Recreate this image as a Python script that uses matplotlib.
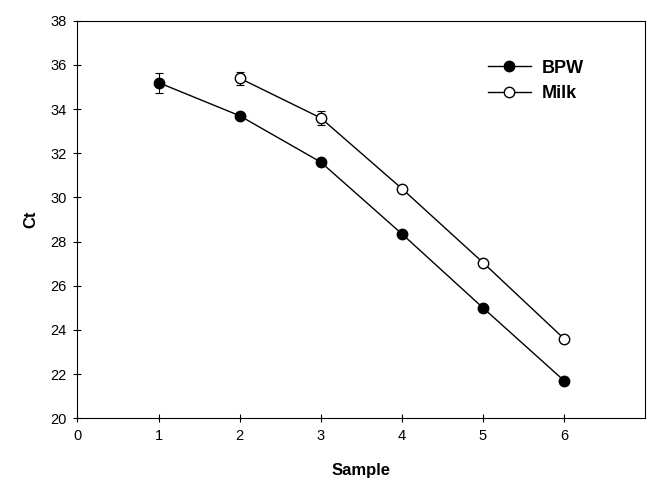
import matplotlib.pyplot as plt

plt.rcParams['font.family'] = ['Liberation Sans', 'DejaVu Sans']

sample_bpw = [1, 2, 3, 4, 5, 6]
ct_bpw = [35.2, 33.7, 31.6, 28.35, 25.0, 21.7]
err_bpw = [0.45, 0.1, 0.1, 0.1, 0.1, 0.1]

sample_milk = [2, 3, 4, 5, 6]
ct_milk = [35.4, 33.6, 30.4, 27.05, 23.6]
err_milk = [0.3, 0.3, 0.1, 0.1, 0.1]

fig = plt.figure(figsize=(6.51, 4.84), dpi=100)
ax = fig.add_axes([0.119, 0.136, 0.872, 0.821])

# error bars below the markers
ax.errorbar(sample_bpw, ct_bpw, yerr=err_bpw, fmt='none', ecolor='black',
            elinewidth=0.8, capsize=3, capthick=0.8, zorder=1)
ax.errorbar(sample_milk, ct_milk, yerr=err_milk, fmt='none', ecolor='black',
            elinewidth=0.8, capsize=3, capthick=0.8, zorder=1)

ax.plot(sample_bpw, ct_bpw, color='black', marker='o', markersize=7.5,
        markerfacecolor='black', linewidth=1, label='BPW', zorder=3)
ax.plot(sample_milk, ct_milk, color='black', marker='o', markersize=7.5,
        markerfacecolor='white', markeredgewidth=1, linewidth=1,
        label='Milk', zorder=3)

ax.set_xlim(0, 7)
ax.set_ylim(20, 38)
ax.set_xticks([0, 1, 2, 3, 4, 5, 6])
ax.set_yticks(range(20, 39, 2))
ax.tick_params(direction='inout', length=6, labelsize=10.5, top=False,
               right=False, pad=5)

ax.set_xlabel('Sample', fontsize=12, fontweight='bold', labelpad=14)
ax.set_ylabel('Ct', fontsize=12, fontweight='bold', labelpad=8)

ax.legend(loc='upper left', bbox_to_anchor=(0.7226, 0.902), frameon=False,
          borderpad=0, borderaxespad=0, prop={'weight': 'bold', 'size': 13},
          handlelength=2.4, handletextpad=0.6, labelspacing=0.47)

fig.savefig('out.png', dpi=100)
